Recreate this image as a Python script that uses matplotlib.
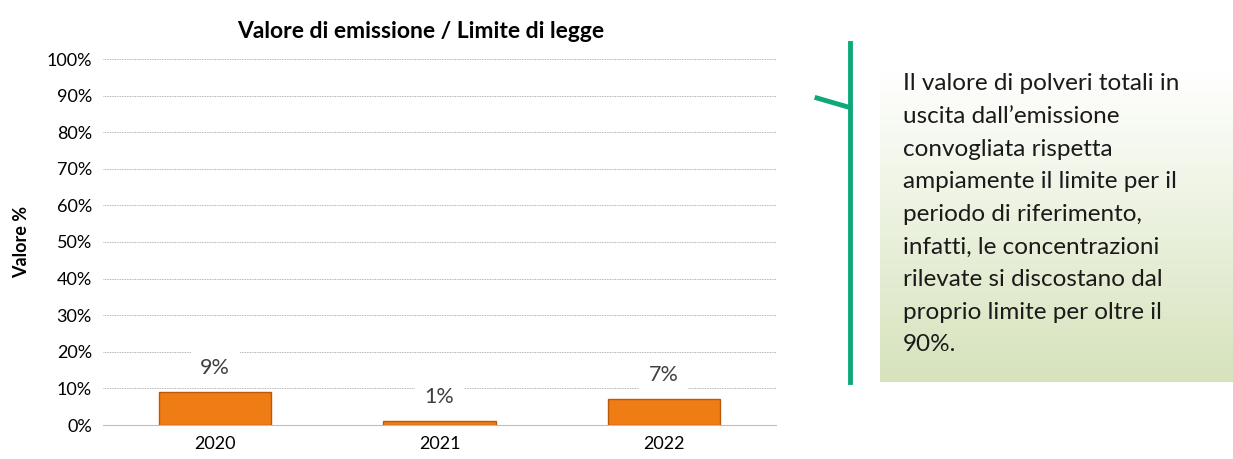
import numpy as np
import matplotlib.pyplot as plt

# --- data ---
years = ["2020", "2021", "2022"]
values = [9, 1, 7]
yticks = list(range(0, 101, 10))
title = "Valore di emissione / Limite di legge"
ylabel = "Valore %"
note_lines = [
    "Il valore di polveri totali in",
    "uscita dall\u2019emissione",
    "convogliata rispetta",
    "ampiamente il limite per il",
    "periodo di riferimento,",
    "infatti, le concentrazioni",
    "rilevate si discostano dal",
    "proprio limite per oltre il",
    "90%.",
]

W, H = 1233, 459
plt.rcParams['font.family'] = ['Lato', 'DejaVu Sans']
fig = plt.figure(figsize=(W / 100, H / 100), dpi=100)

# --- bar chart ---
ax = fig.add_axes([103 / W, 1 - 425 / H, 673 / W, 366 / H])
x = np.arange(len(years))
ax.bar(x, values, width=0.5, color='#f07c16', edgecolor='#b85a0c',
       linewidth=1.0, zorder=3)
ax.set_xlim(-0.5, len(years) - 0.5)
ax.set_ylim(0, 100)
ax.set_yticks(yticks)
ax.set_yticklabels([f"{t}%" for t in yticks], fontsize=13)
ax.set_xticks(x)
ax.set_xticklabels(years, fontsize=13)
ax.tick_params(length=0, pad=8)
ax.grid(axis='y', color='#9a9a9a', lw=0.6, ls=(0, (1, 1)), zorder=0)
for s in ['top', 'right', 'left']:
    ax.spines[s].set_visible(False)
ax.spines['bottom'].set_color('#bfbfbf')
ax.set_ylabel(ylabel, fontsize=13, fontweight='bold', labelpad=12)
fig.text(421 / W, 1 - 32 / H, title, fontsize=16.5, fontweight='bold',
         ha='center', va='center')

for xi, v in zip(x, values):
    ax.annotate(f"{v}%", (xi, v), xytext=(0, 10), textcoords='offset points',
                ha='center', va='bottom', fontsize=15.5, color='#404040',
                bbox=dict(boxstyle='square,pad=0.45', fc='white', ec='none'),
                zorder=5)

# --- side note with gradient background ---
bx0, by0, bx1, by1 = 880, 70, 1233, 382
bax = fig.add_axes([bx0 / W, 1 - by1 / H, (bx1 - bx0) / W, (by1 - by0) / H])
grad = np.linspace(0, 1, 256)[:, None]
top = np.array([1.0, 1.0, 1.0])
bot = np.array([0xd6, 0xe3, 0xbc]) / 255
img = top + (bot - top) * grad[..., None]
img = np.repeat(img, 2, axis=1)
bax.imshow(img, aspect='auto', extent=[0, 1, 0, 1])
bax.axis('off')

for i, line in enumerate(note_lines):
    fig.text(903 / W, 1 - (84 + i * 32.6) / H, line, fontsize=17.5,
             color='#1a1a1a', ha='left', va='center')

# green vertical bracket and its small tick
fig.add_artist(plt.Line2D([850 / W, 850 / W], [1 - 43 / H, 1 - 382 / H],
                          color='#0fa878', lw=3.5))
fig.add_artist(plt.Line2D([817 / W, 848 / W], [1 - 98 / H, 1 - 107 / H],
                          color='#0fa878', lw=3.5))

fig.savefig("out.png", dpi=100)
